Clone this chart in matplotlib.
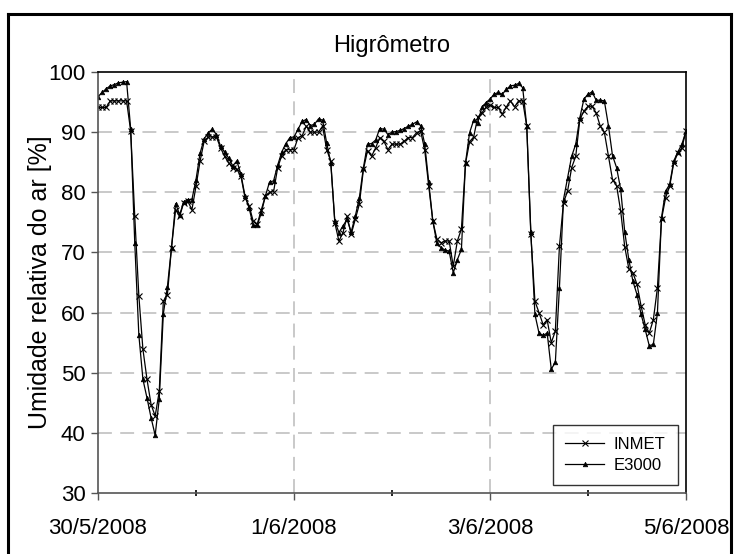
import numpy as np
import matplotlib
matplotlib.use("Agg")
import matplotlib.pyplot as plt
from matplotlib.lines import Line2D

plt.rcParams['font.family'] = ['Liberation Sans', 'DejaVu Sans']
plt.rcParams['lines.scale_dashes'] = False

# leituras horarias de 30/5/2008 00h ate 5/6/2008 00h
inmet = [
    94.1, 94.1, 94.1, 95.2, 95.2, 95.2, 95.2, 95.2, 90.2, 76.0, 62.8, 53.9,
    48.9, 44.7, 42.8, 46.9, 61.9, 63.0, 70.8, 77.1, 76.0, 78.3, 78.5, 77.1,
    81.0, 85.2, 88.5, 89.2, 89.2, 89.2, 87.4, 86.0, 84.9, 84.1, 83.8, 82.7,
    79.1, 77.8, 75.2, 74.7, 77.1, 79.4, 80.0, 80.1, 84.1, 86.1, 87.1, 87.1,
    87.1, 89.1, 89.4, 91.0, 90.0, 90.0, 90.0, 91.0, 87.1, 85.2, 74.9, 71.9,
    73.3, 76.0, 73.0, 75.5, 78.0, 83.8, 86.9, 86.0, 87.4, 89.1, 88.5, 87.1,
    88.0, 88.0, 88.0, 88.5, 89.1, 89.1, 89.9, 90.2, 87.1, 81.0, 75.2, 72.2,
    71.6, 71.9, 71.9, 67.7, 71.9, 73.9, 84.8, 88.4, 89.2, 92.5, 93.2, 94.1,
    94.5, 94.1, 94.1, 93.0, 94.2, 95.2, 94.2, 95.2, 95.2, 91.0, 73.0, 61.9,
    60.0, 58.0, 58.8, 55.0, 56.9, 71.0, 78.3, 80.2, 84.1, 86.0, 92.1, 93.5,
    94.3, 94.3, 93.2, 91.0, 90.0, 86.0, 82.1, 81.1, 76.9, 70.9, 67.3, 66.6,
    64.7, 61.1, 58.0, 56.6, 58.8, 64.1, 75.5, 79.1, 81.0, 84.9, 86.5, 87.4,
    90.2,
]
e3000 = [
    95.9, 96.6, 97.2, 97.7, 97.9, 98.2, 98.3, 98.4, 90.6, 71.6, 56.3, 48.9,
    45.8, 42.5, 39.6, 45.6, 59.8, 64.3, 70.8, 78.1, 76.3, 78.4, 78.8, 78.8,
    82.1, 86.5, 88.9, 89.9, 90.5, 89.6, 87.7, 86.7, 85.7, 84.4, 85.2, 83.0,
    79.4, 77.4, 74.5, 74.5, 76.6, 79.4, 81.7, 81.9, 84.5, 86.7, 88.1, 89.1,
    89.2, 90.5, 91.8, 92.1, 91.1, 91.3, 92.2, 92.0, 88.2, 84.9, 75.2, 73.3,
    74.4, 75.5, 73.4, 76.0, 79.1, 84.1, 88.0, 88.1, 88.7, 90.6, 90.5, 89.6,
    90.0, 90.1, 90.3, 90.6, 91.0, 91.3, 91.7, 91.1, 88.1, 81.7, 75.2, 71.5,
    70.8, 70.4, 70.2, 66.6, 68.8, 70.5, 84.9, 89.9, 92.0, 91.6, 94.1, 94.9,
    95.5, 96.3, 96.6, 96.3, 97.1, 97.7, 97.8, 98.1, 97.4, 91.0, 73.4, 59.7,
    56.6, 56.2, 56.6, 50.6, 51.7, 64.1, 78.8, 82.4, 86.0, 88.0, 92.4, 95.5,
    96.3, 96.7, 95.3, 95.3, 95.2, 91.1, 86.1, 84.1, 80.5, 73.4, 68.8, 65.2,
    63.0, 59.7, 57.2, 54.5, 54.7, 59.9, 75.8, 80.2, 81.3, 85.2, 86.7, 88.0,
    90.2,
]
date_labels = ['30/5/2008', '1/6/2008', '3/6/2008', '5/6/2008']

t = np.arange(len(inmet)) / 24.0   # dias desde 30/5

fig = plt.figure(figsize=(7.35, 5.54), dpi=100)
ax = fig.add_axes([98 / 735, 61 / 554, 588 / 735, 421 / 554])

ax.plot(t, inmet, color='black', lw=0.9, marker='x', ms=4, mew=0.8, label='INMET')
ax.plot(t, e3000, color='black', lw=0.9, marker='^', ms=3.3, mew=0.5, label='E3000')

ax.set_xlim(0, 6)
ax.set_ylim(30, 100)
ax.set_xticks([0, 2, 4, 6])
ax.set_xticklabels(date_labels)
ax.set_xticks([1, 3, 5], minor=True)
ax.set_yticks(np.arange(30, 101, 10))

for y in range(40, 100, 10):
    ax.axhline(y, color='#c0c0c0', lw=1.2, dashes=(10, 6), zorder=0)
for x in [2, 4]:
    ax.axvline(x, color='#c0c0c0', lw=1.2, dashes=(10, 6), zorder=0)

ax.tick_params(axis='both', which='major', labelsize=16, direction='out',
               length=5, width=1, color='#555555', pad=4)
ax.tick_params(axis='x', which='major', pad=13)
ax.tick_params(axis='x', which='minor', direction='inout', length=4, width=1.2, color='black')
for s in ['left', 'bottom']:
    ax.spines[s].set_color('#555555')
    ax.spines[s].set_linewidth(1.2)
for s in ['top', 'right']:
    ax.spines[s].set_color('black')
    ax.spines[s].set_linewidth(1.2)

ax.set_ylabel('Umidade relativa do ar [%]', fontsize=18, labelpad=-3)
fig.text(392 / 735, 1 - 46 / 554, 'Higrômetro', ha='center', va='center', fontsize=17)

leg = ax.legend(loc='lower right', bbox_to_anchor=(1 - 8 / 588, 8 / 421), fontsize=12,
                frameon=True, fancybox=False, handlelength=2.3, borderpad=0.75,
                labelspacing=0.33, handletextpad=0.6, borderaxespad=0)
leg.get_frame().set_edgecolor('black')
leg.get_frame().set_linewidth(1.0)

# moldura da area do grafico
for xs, ys in [([8, 8], [0, 540]), ([8, 731], [540, 540]), ([731, 731], [540, 0])]:
    fig.add_artist(Line2D([v / 735 for v in xs], [v / 554 for v in ys],
                          color='black', lw=2.2, transform=fig.transFigure))

fig.savefig('out.png', dpi=100)
